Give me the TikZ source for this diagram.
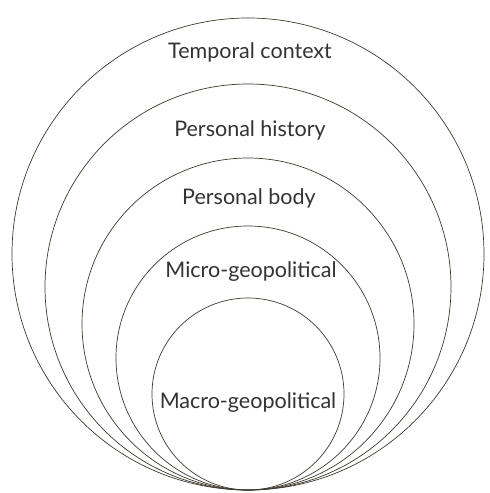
\documentclass[tikz,border=0pt]{standalone}
\usepackage{fontspec}
\setmainfont{Lato}
\begin{document}
\begin{tikzpicture}[x=1pt,y=1pt,
  ring/.style={draw=black!75!olive, line width=0.7pt},
  lab/.style={font=\fontsize{21.5}{24}\selectfont, text=black!80}]
\useasboundingbox (0,0) rectangle (490,493);
\coordinate (tp) at (248,3);
\node[ring, circle, minimum size=472pt, inner sep=0pt] (c1) at (248,239) {};
\node[ring, circle, minimum size=406pt, inner sep=0pt] (c2) at (248,206) {};
\node[ring, circle, minimum size=332pt, inner sep=0pt] (c3) at (248,169) {};
\node[ring, circle, minimum size=264pt, inner sep=0pt] (c4) at (248,135) {};
\node[ring, circle, minimum size=192pt, inner sep=0pt] (c5) at (248,99) {};
\node[lab] (t1) at (250,441) {Temporal context};
\node[lab] (t2) at (250,363) {Personal history};
\node[lab] (t3) at (249,295) {Personal body};
\node[lab] (t4) at (251,221) {Micro-geopolitical};
\node[lab] (t5) at (248,90) {Macro-geopolitical};
\end{tikzpicture}
\end{document}
